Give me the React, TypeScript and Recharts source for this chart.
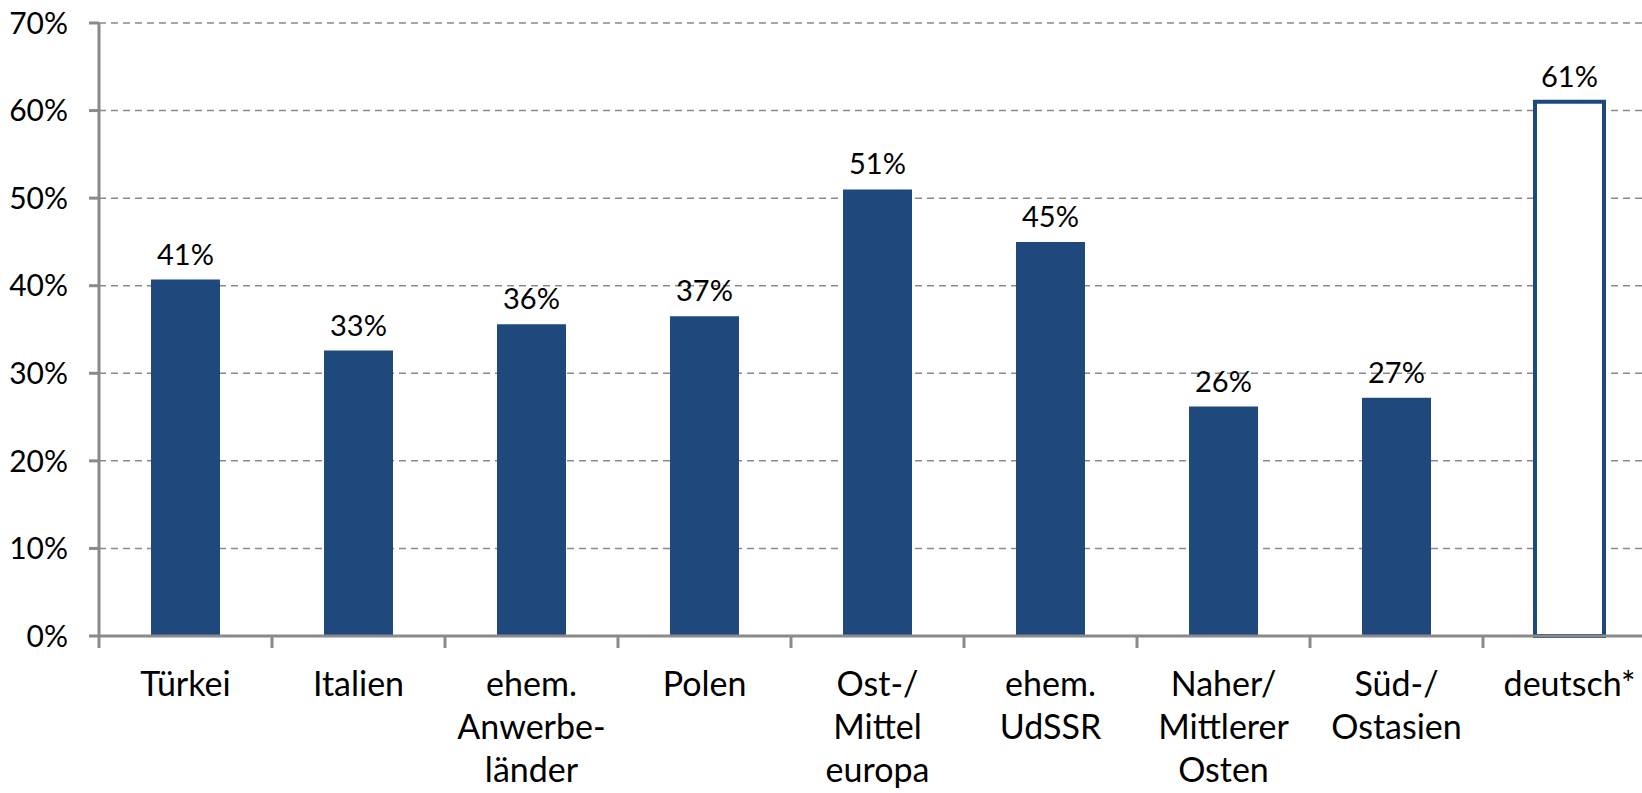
import React from "react";
import { BarChart, Bar, XAxis, YAxis, CartesianGrid, Cell, LabelList } from "recharts";

// Herkunftsgruppen und Anteile (in %)
const categories = [
  "Türkei",
  "Italien",
  "ehem.\nAnwerbe-\nländer",
  "Polen",
  "Ost-/\nMittel\neuropa",
  "ehem.\nUdSSR",
  "Naher/\nMittlerer\nOsten",
  "Süd-/\nOstasien",
  "deutsch*",
];
const shares = [40.7, 32.6, 35.6, 36.5, 51.0, 45.0, 26.2, 27.2, 61.0];
const yTicks = [0, 10, 20, 30, 40, 50, 60, 70];
const referenceGroup = "deutsch*";

const data = categories.map((name, i) => ({ name, value: shares[i] }));

const BLUE = "#1F497D";
const AXIS = "#8a8a8a";
const FONT = "Lato, 'Noto Sans', sans-serif";

const CHART_W = 1660;
const CHART_H = 793;
const LEFT = 99;
const RIGHT_MARGIN = 4;
const BAND = (CHART_W - LEFT - RIGHT_MARGIN) / categories.length;

const XTick = (props: any) => {
  const { x, y, payload, index } = props;
  const lines = String(payload.value).split("\n");
  const half = BAND / 2;
  return (
    <g>
      <line x1={x - half} x2={x - half} y1={y} y2={y + 12} stroke={AXIS} strokeWidth={3} />
      {index === categories.length - 1 && (
        <line x1={x + half} x2={x + half} y1={y} y2={y + 12} stroke={AXIS} strokeWidth={3} />
      )}
      <text x={x} y={y + 60} textAnchor="middle" fontSize={34} fontFamily={FONT} fill="#000">
        {lines.map((l, i) => (
          <tspan key={i} x={x} dy={i === 0 ? 0 : 43}>
            {l}
          </tspan>
        ))}
      </text>
    </g>
  );
};

const App = () => {
  return (
    <div
      style={{
        position: "fixed",
        left: 0,
        top: 0,
        width: 1642,
        height: 793,
        overflow: "hidden",
        background: "#fff",
      }}
    >
      <BarChart
        width={CHART_W}
        height={CHART_H}
        data={data}
        margin={{ top: 23, right: RIGHT_MARGIN, bottom: 0, left: 0 }}
        barSize={69}
      >
        <CartesianGrid vertical={false} stroke={AXIS} strokeDasharray="7 5" strokeWidth={1.5} />
        <XAxis
          dataKey="name"
          interval={0}
          height={157}
          tickSize={0}
          tickMargin={0}
          tickLine={false}
          axisLine={{ stroke: AXIS, strokeWidth: 3 }}
          tick={<XTick />}
        />
        <YAxis
          width={LEFT}
          domain={[0, 70]}
          ticks={yTicks}
          interval={0}
          tickFormatter={(v: number) => `${v}%`}
          tickSize={10}
          tickMargin={21}
          tickLine={{ stroke: AXIS, strokeWidth: 3 }}
          axisLine={{ stroke: AXIS, strokeWidth: 3 }}
          tick={{ fontSize: 30, fontFamily: FONT, fill: "#000" }}
        />
        <Bar dataKey="value" isAnimationActive={false}>
          {data.map((d) =>
            d.name === referenceGroup ? (
              <Cell key={d.name} fill="#fff" stroke={BLUE} strokeWidth={4} />
            ) : (
              <Cell key={d.name} fill={BLUE} />
            )
          )}
          <LabelList
            dataKey="value"
            position="top"
            offset={15}
            formatter={(v: any) => `${Math.round(Number(v))}%`}
            style={{ fontSize: 29, fontFamily: FONT, fill: "#000" }}
          />
        </Bar>
      </BarChart>
    </div>
  );
};

export default App;
